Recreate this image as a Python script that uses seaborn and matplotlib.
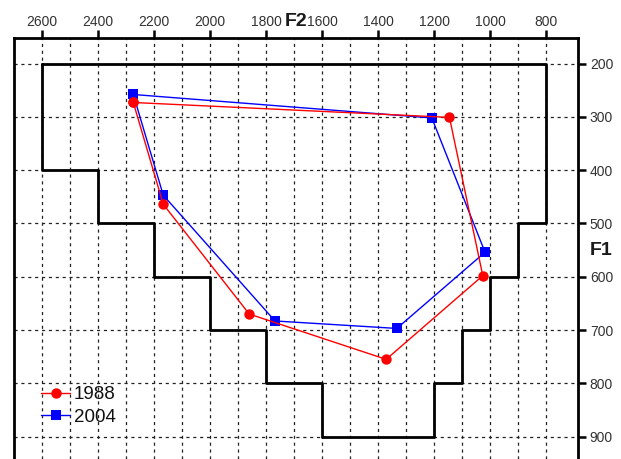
import numpy as np
import pandas as pd
import matplotlib
matplotlib.use("Agg")
import matplotlib.pyplot as plt
from matplotlib.lines import Line2D
import seaborn as sns

# vowel formants (F2 Hz, F1 Hz), polygon order
f2_1988 = [2274, 1145, 1026, 1371, 1860, 2167]
f1_1988 = [273, 301, 598, 755, 670, 464]
f2_2004 = [2274, 1208, 1018, 1333, 1768, 2167]
f1_2004 = [258, 302, 554, 697, 683, 447]

# stepped outline of the vowel space
outline_f2 = [2600, 800, 800, 900, 900, 1000, 1000, 1100, 1100, 1200, 1200,
              1600, 1600, 1800, 1800, 2000, 2000, 2200, 2200, 2400, 2400, 2600, 2600]
outline_f1 = [200, 200, 500, 500, 600, 600, 700, 700, 800, 800, 900,
              900, 800, 800, 700, 700, 600, 600, 500, 500, 400, 400, 200]

f2_major = [2600, 2400, 2200, 2000, 1800, 1600, 1400, 1200, 1000, 800]
f2_minor = [2500, 2300, 2100, 1900, 1700, 1500, 1300, 1100, 900]
f1_ticks = [200, 300, 400, 500, 600, 700, 800, 900]

# closed polygons
df = pd.concat([
    pd.DataFrame({"F2": f2_1988 + f2_1988[:1], "F1": f1_1988 + f1_1988[:1], "Year": "1988"}),
    pd.DataFrame({"F2": f2_2004 + f2_2004[:1], "F1": f1_2004 + f1_2004[:1], "Year": "2004"}),
])

sns.set_theme(style="white")
plt.rcParams["font.family"] = ["Liberation Sans", "DejaVu Sans"]

fig = plt.figure(figsize=(6.21, 4.59), dpi=100)
ax = fig.add_axes([14 / 621, 0, 564 / 621, 421 / 459])

colors = {"1988": "#ff0000", "2004": "#0000ff"}
sizes = {"1988": 7.5, "2004": 6.5}
marks = {"1988": "o", "2004": "s"}
for yr in ["2004", "1988"]:
    sns.lineplot(data=df[df["Year"] == yr], x="F2", y="F1", sort=False, estimator=None,
                 color=colors[yr], marker=marks[yr], markersize=sizes[yr],
                 markeredgewidth=0, lw=1, ax=ax, legend=False, zorder=4)

ax.plot(outline_f2, outline_f1, color="black", lw=2, zorder=3)

ax.set_xlim(2700, 686)
ax.set_ylim(942, 152)
ax.set_xticks(f2_major)
ax.set_xticks(f2_minor, minor=True)
ax.set_yticks(f1_ticks)
ax.xaxis.tick_top()
ax.yaxis.tick_right()

ax.set_xticklabels([str(v) for v in f2_major], fontsize=10, color="#333333")
ax.set_yticklabels([str(v) for v in f1_ticks], fontsize=10, color="#333333")
ax.tick_params(axis="both", which="major", direction="out", length=6, width=1.8,
               color="black")
ax.tick_params(axis="x", which="major", pad=0.5)
ax.tick_params(axis="y", which="major", pad=2.5)
ax.tick_params(axis="x", which="minor", length=0)

ax.grid(True, which="both", axis="x", color="#222222", lw=0.9, ls=(0, (2.5, 3)))
ax.grid(True, which="major", axis="y", color="#222222", lw=0.9, ls=(0, (2.5, 3)))
ax.set_axisbelow(True)

for side in ["top", "left", "right"]:
    ax.spines[side].set_linewidth(2)
    ax.spines[side].set_color("black")
ax.spines["bottom"].set_visible(False)

ax.set_xlabel("F2", fontsize=14, fontweight="bold", color="#1a1a1a")
ax.xaxis.set_label_position("top")
ax.xaxis.set_label_coords(0.5, 1.040)
ax.xaxis.label.set_va("center")
ax.set_ylabel("F1", fontsize=14, fontweight="bold", color="#1a1a1a", rotation=0)
ax.yaxis.set_label_position("right")
ax.yaxis.set_label_coords(1.041, 0.496)
ax.yaxis.label.set_va("center")
ax.yaxis.label.set_ha("center")

handles = [
    Line2D([], [], color=colors["1988"], marker="o", markersize=7.5, markeredgewidth=0, lw=1),
    Line2D([], [], color=colors["2004"], marker="s", markersize=6.5, markeredgewidth=0, lw=1),
]
leg = ax.legend(handles, ["1988", "2004"], loc="upper left",
                bbox_to_anchor=(41 / 621, 1 - 386 / 459), bbox_transform=fig.transFigure,
                frameon=False, fontsize=13.5, handlelength=1.55, handletextpad=0.2,
                labelspacing=0.3, borderpad=0, borderaxespad=0)
for t in leg.get_texts():
    t.set_color("#111111")

fig.savefig("out.png", dpi=100, facecolor="white")
